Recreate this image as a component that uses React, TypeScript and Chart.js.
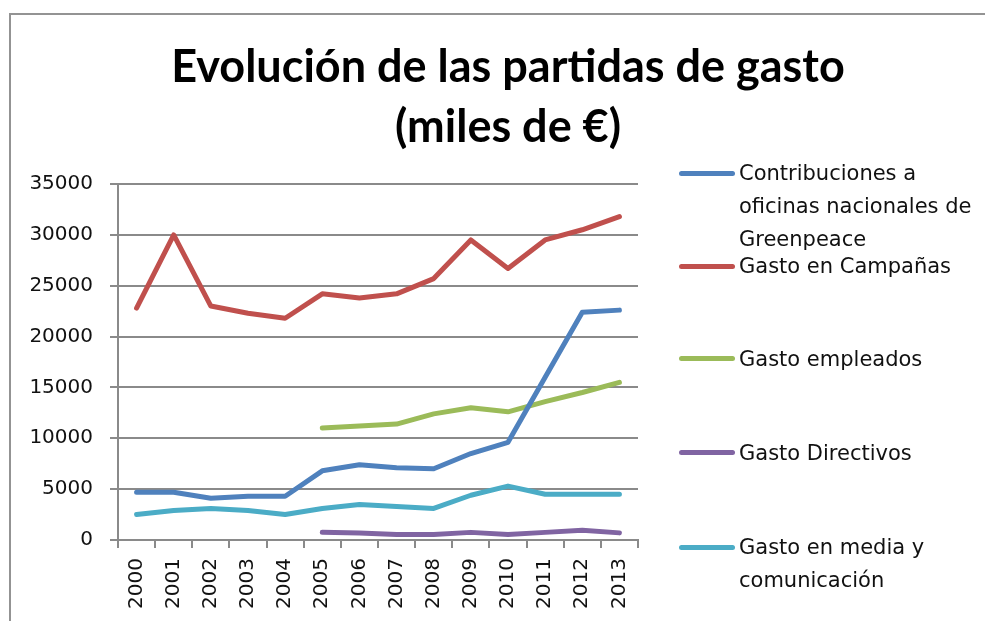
import React, { useEffect, useRef } from "react";
import { Chart, registerables } from "chart.js";

Chart.register(...registerables);

const years = ["2000","2001","2002","2003","2004","2005","2006","2007","2008","2009","2010","2011","2012","2013"];

const contribuciones = [4700, 4700, 4100, 4300, 4300, 6800, 7400, 7100, 7000, 8500, 9600, 16000, 22400, 22600];
const campanas = [22800, 30000, 23000, 22300, 21800, 24200, 23800, 24200, 25700, 29500, 26700, 29500, 30500, 31800];
const empleados = [null, null, null, null, null, 11000, 11200, 11400, 12400, 13000, 12600, 13600, 14500, 15500];
const directivos = [null, null, null, null, null, 750, 700, 550, 550, 750, 550, 750, 950, 700];
const media = [2500, 2900, 3100, 2900, 2500, 3100, 3500, 3300, 3100, 4400, 5300, 4500, 4500, 4500];

const seriesNames = [
  "Contribuciones a oficinas nacionales de Greenpeace",
  "Gasto en Campañas",
  "Gasto empleados",
  "Gasto Directivos",
  "Gasto en media y comunicación",
];
const seriesColors = ["#4F81BD", "#C0504D", "#9BBB59", "#8064A2", "#4BACC6"];
const seriesData = [contribuciones, campanas, empleados, directivos, media];

const titleLines = ["Evolución de las partidas de gasto", "(miles de €)"];
const yTicks = [0, 5000, 10000, 15000, 20000, 25000, 30000, 35000];

// legend layout (sample line centre y, text block top)
const legendPos = [
  { line: 173, text: 157 },
  { line: 266, text: 250 },
  { line: 358, text: 343 },
  { line: 452, text: 437 },
  { line: 547, text: 531 },
];

export default function App() {
  const ref = useRef<HTMLCanvasElement>(null);

  useEffect(() => {
    if (!ref.current) return;
    const chart = new Chart(ref.current, {
      type: "line",
      data: {
        labels: years,
        datasets: seriesNames.map((name, i) => ({
          label: name,
          data: seriesData[i],
          borderColor: seriesColors[i],
          backgroundColor: seriesColors[i],
          borderWidth: 5,
          pointRadius: 0,
          pointHoverRadius: 0,
          tension: 0,
          borderCapStyle: "round",
          borderJoinStyle: "round",
          fill: false,
          spanGaps: false,
        })),
      },
      options: {
        animation: false,
        responsive: false,
        maintainAspectRatio: false,
        layout: { padding: { top: 184, right: 985 - 638, left: 0, bottom: 0 } },
        plugins: {
          legend: { display: false },
          title: { display: false },
          tooltip: { enabled: false },
        },
        scales: {
          x: {
            offset: true,
            grid: {
              offset: true,
              drawOnChartArea: false,
              drawTicks: true,
              tickLength: 8,
              color: "#8a8a8a",
              lineWidth: 2,
            },
            border: { display: true, color: "#8a8a8a", width: 2 },
            ticks: {
              maxRotation: 90,
              minRotation: 90,
              autoSkip: false,
              padding: 10,
              color: "#111111",
              font: { family: "DejaVu Sans", size: 20 },
            },
            afterFit: (s: any) => {
              s.height = 81;
            },
          },
          y: {
            min: 0,
            max: 35000,
            afterBuildTicks: (s: any) => {
              s.ticks = yTicks.map((v) => ({ value: v }));
            },
            grid: {
              drawTicks: true,
              tickLength: 8,
              color: "#8a8a8a",
              lineWidth: 2,
            },
            border: { display: true, color: "#8a8a8a", width: 2 },
            ticks: {
              padding: 17,
              color: "#111111",
              font: { family: "DejaVu Sans", size: 20 },
              callback: (v: any) => String(v),
            },
            afterFit: (s: any) => {
              s.width = 118;
            },
          },
        },
      },
    });
    return () => chart.destroy();
  }, []);

  return (
    <div
      style={{
        position: "absolute",
        left: 0,
        top: 0,
        width: 985,
        height: 621,
        overflow: "hidden",
        background: "#ffffff",
      }}
    >
      <div
        style={{
          position: "absolute",
          left: 9,
          top: 13,
          width: 1000,
          height: 700,
          borderLeft: "2px solid #939393",
          borderTop: "2px solid #939393",
        }}
      />
      <canvas ref={ref} width={985} height={621} style={{ position: "absolute", left: 0, top: 0 }} />
      <div
        style={{
          position: "absolute",
          left: 508 - 400,
          top: 35,
          width: 800,
          textAlign: "center",
          fontFamily: "Lato",
          fontWeight: 700,
          fontSize: 45,
          lineHeight: "60px",
          color: "#000",
        }}
      >
        {titleLines.map((t, i) => (
          <div key={i}>{t}</div>
        ))}
      </div>
      {seriesNames.map((name, i) => (
        <React.Fragment key={i}>
          <div
            style={{
              position: "absolute",
              left: 679,
              top: legendPos[i].line - 2.5,
              width: 56,
              height: 5,
              borderRadius: 2.5,
              background: seriesColors[i],
            }}
          />
          <div
            style={{
              position: "absolute",
              left: 739,
              top: legendPos[i].text,
              width: 245,
              fontFamily: "DejaVu Sans",
              fontSize: 21,
              lineHeight: "33px",
              color: "#111111",
            }}
          >
            {name}
          </div>
        </React.Fragment>
      ))}
    </div>
  );
}
